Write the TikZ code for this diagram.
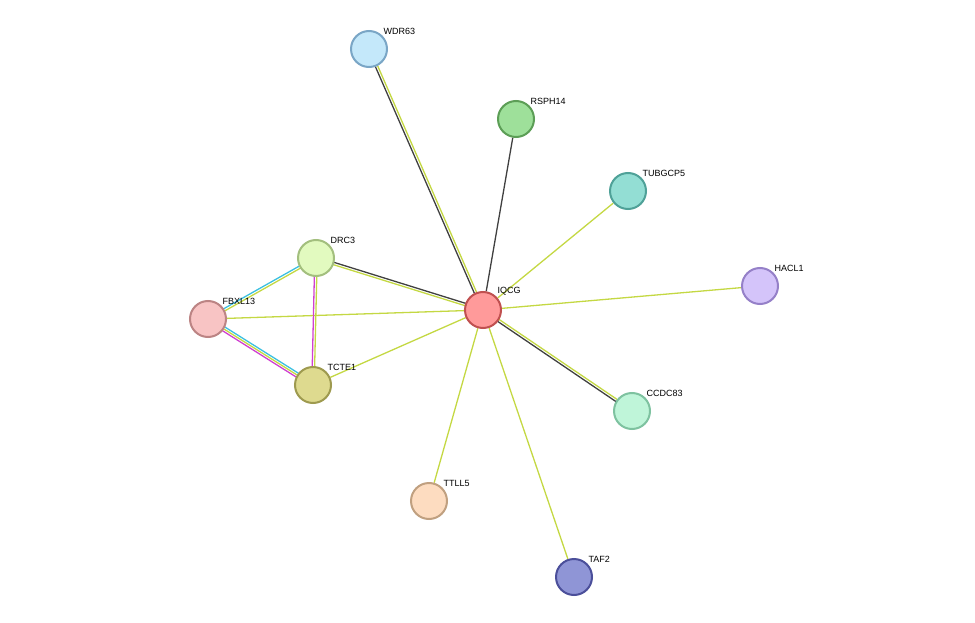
\documentclass[tikz,border=0pt]{standalone}
\usepackage{fontspec}
\setmainfont{Liberation Sans}
\usetikzlibrary{calc,backgrounds}

\definecolor{txtmine}{HTML}{C4D843}
\definecolor{coexp}{HTML}{404040}
\definecolor{dbcyan}{HTML}{3CC0E0}
\definecolor{expmag}{HTML}{D040D0}

% two parallel lines between two named nodes
\newcommand{\twolines}[4]{%
  \draw[#3] ($(#1)!1.2pt!90:(#2)$) -- ($(#2)!1.2pt!-90:(#1)$);
  \draw[#4] ($(#1)!1.2pt!-90:(#2)$) -- ($(#2)!1.2pt!90:(#1)$);}

\begin{document}
\begin{tikzpicture}[x=1pt,y=-1pt,
    prot/.style={circle, minimum size=36pt, inner sep=0pt, line width=2pt},
    lbl/.style={font=\fontsize{9}{10}\selectfont, inner sep=1pt},
    edge/.style={line width=1.3pt}
]
\useasboundingbox (0,0) rectangle (975,623);

% proteins
\node[prot, fill={rgb,255:red,255;green,154;blue,154}, draw={rgb,255:red,192;green,80;blue,80}, label={[lbl,anchor=south west]45:IQCG}] (iqcg) at (483,310) {};
\node[prot, fill={rgb,255:red,196;green,232;blue,250}, draw={rgb,255:red,122;green,166;blue,198}, label={[lbl,anchor=south west]45:WDR63}] (wdr63) at (369,49) {};
\node[prot, fill={rgb,255:red,158;green,224;blue,154}, draw={rgb,255:red,92;green,158;blue,86}, label={[lbl,anchor=south west]45:RSPH14}] (rsph14) at (516,119) {};
\node[prot, fill={rgb,255:red,147;green,222;blue,212}, draw={rgb,255:red,79;green,161;blue,152}, label={[lbl,anchor=south west]45:TUBGCP5}] (tubgcp5) at (628,191) {};
\node[prot, fill={rgb,255:red,212;green,196;blue,250}, draw={rgb,255:red,149;green,128;blue,200}, label={[lbl,anchor=south west]45:HACL1}] (hacl1) at (760,286) {};
\node[prot, fill={rgb,255:red,191;green,245;blue,217}, draw={rgb,255:red,126;green,194;blue,160}, label={[lbl,anchor=south west]45:CCDC83}] (ccdc83) at (632,411) {};
\node[prot, fill={rgb,255:red,143;green,149;blue,214}, draw={rgb,255:red,75;green,79;blue,154}, label={[lbl,anchor=south west]45:TAF2}] (taf2) at (574,577) {};
\node[prot, fill={rgb,255:red,253;green,220;blue,192}, draw={rgb,255:red,192;green,160;blue,128}, label={[lbl,anchor=south west]45:TTLL5}] (ttll5) at (429,501) {};
\node[prot, fill={rgb,255:red,222;green,218;blue,143}, draw={rgb,255:red,158;green,154;blue,79}, label={[lbl,anchor=south west]45:TCTE1}] (tcte1) at (313,385) {};
\node[prot, fill={rgb,255:red,248;green,196;blue,196}, draw={rgb,255:red,188;green,132;blue,132}, label={[lbl,anchor=south west]45:FBXL13}] (fbxl13) at (208,319) {};
\node[prot, fill={rgb,255:red,226;green,250;blue,191}, draw={rgb,255:red,163;green,191;blue,126}, label={[lbl,anchor=south west]45:DRC3}] (drc3) at (316,258) {};

% interactions
\begin{scope}[on background layer]
\twolines{iqcg}{wdr63}{edge,coexp}{edge,txtmine}
\draw[edge,coexp] (iqcg) -- (rsph14);
\draw[edge,txtmine] (iqcg) -- (tubgcp5);
\draw[edge,txtmine] (iqcg) -- (hacl1);
\twolines{iqcg}{ccdc83}{edge,txtmine}{edge,coexp}
\draw[edge,txtmine] (iqcg) -- (taf2);
\draw[edge,txtmine] (iqcg) -- (ttll5);
\draw[edge,txtmine] (iqcg) -- (tcte1);
\draw[edge,txtmine] (iqcg) -- (fbxl13);
\twolines{iqcg}{drc3}{edge,txtmine}{edge,coexp}
\twolines{drc3}{fbxl13}{edge,txtmine}{edge,dbcyan}
\twolines{drc3}{tcte1}{edge,txtmine}{edge,expmag}
\draw[edge,dbcyan] ($(fbxl13)!2.2pt!90:(tcte1)$) -- ($(tcte1)!2.2pt!-90:(fbxl13)$);
\draw[edge,txtmine] (fbxl13) -- (tcte1);
\draw[edge,expmag] ($(fbxl13)!2.2pt!-90:(tcte1)$) -- ($(tcte1)!2.2pt!90:(fbxl13)$);
\end{scope}
\end{tikzpicture}
\end{document}
